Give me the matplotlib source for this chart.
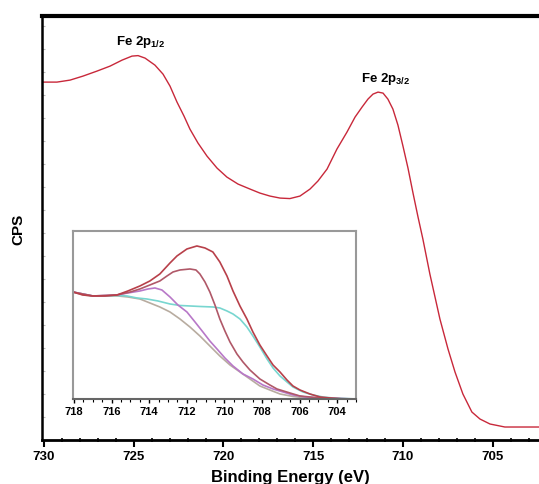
import matplotlib.pyplot as plt
import numpy as np
from matplotlib.ticker import MultipleLocator

plt.rcParams['font.family'] = ['Liberation Sans', 'DejaVu Sans']
plt.rcParams['mathtext.fontset'] = 'custom'
plt.rcParams['mathtext.rm'] = 'Liberation Sans:bold'
plt.rcParams['mathtext.it'] = 'Liberation Sans:bold'

# main Fe 2p spectrum (binding energy, counts)
main_be = [730.11, 729.28, 728.55, 727.83, 727.05, 726.32, 725.65, 725.10, 724.76, 724.37,
           723.82, 723.37, 722.98, 722.59, 722.20, 721.87, 721.42, 720.92, 720.36, 719.81,
           719.19, 718.52, 717.97, 717.41, 716.85, 716.30, 715.74, 715.18, 714.74, 714.23,
           713.68, 713.12, 712.67, 712.28, 711.95, 711.67, 711.39, 711.11, 710.84, 710.56,
           710.28, 710.00, 709.72, 709.44, 709.16, 708.89, 708.50, 707.94, 707.49, 707.10,
           706.66, 706.16, 705.71, 705.15, 704.32, 703.48, 702.42]
main_cps = [17900, 17900, 18000, 18200, 18450, 18700, 19000, 19200, 19225, 19100,
            18750, 18300, 17700, 16900, 16200, 15550, 14850, 14200, 13600, 13150,
            12800, 12550, 12350, 12200, 12100, 12075, 12200, 12550, 12950, 13550,
            14550, 15400, 16150, 16650, 17050, 17300, 17400, 17350, 17050, 16550,
            15750, 14700, 13600, 12350, 11150, 10050, 8300, 6050, 4550, 3400,
            2300, 1400, 1050, 800, 650, 650, 650]

# inset: Fe 2p3/2 fit
env_be = [718.05, 717.52, 716.99, 716.35, 715.71, 715.13, 714.49, 713.96, 713.43, 712.89,
          712.52, 711.99, 711.46, 711.03, 710.61, 710.24, 709.86, 709.54, 709.17, 708.80,
          708.48, 708.11, 707.73, 707.41, 707.04, 706.67, 706.35, 705.98, 705.45, 704.91,
          704.38, 703.69, 703.0]
env_cps = [10700, 10400, 10300, 10300, 10400, 10800, 11300, 11800, 12500, 13600,
           14300, 15000, 15300, 15100, 14700, 13700, 12300, 10800, 9300, 8000,
           6700, 5400, 4300, 3400, 2700, 1900, 1300, 900, 500, 200,
           100, 0, 0]

peak1_be = [718.05, 716.99, 715.71, 715.0, 714.49, 713.96, 713.43, 713.05, 712.73, 712.36,
            711.83, 711.51, 711.30, 711.03, 710.77, 710.50, 710.24, 709.97, 709.70, 709.33,
            709.01, 708.64, 708.11, 707.58, 707.20, 706.51, 705.98, 705.19, 704.55, 703.0]
peak1_cps = [10700, 10300, 10400, 10700, 11000, 11400, 11800, 12300, 12700, 12900,
             13000, 12900, 12500, 11700, 10700, 9400, 8000, 6800, 5700, 4500,
             3700, 2900, 2000, 1400, 1000, 600, 300, 150, 50, 0]

peak2_be = [718.05, 716.99, 715.71, 715.13, 714.49, 714.06, 713.69, 713.32, 712.89, 712.47,
            711.99, 711.56, 711.14, 710.77, 710.39, 709.97, 709.54, 709.01, 708.48, 707.95,
            707.41, 706.88, 706.35, 705.71, 704.91, 703.0]
peak2_cps = [10700, 10300, 10400, 10600, 10800, 11000, 11100, 10900, 10200, 9400,
             8700, 7700, 6700, 5800, 5000, 4100, 3300, 2500, 2000, 1400,
             1000, 700, 400, 200, 100, 0]

peak3_be = [718.05, 716.99, 715.71, 715.18, 714.65, 714.12, 713.53, 712.89, 712.36, 711.83,
            711.30, 710.61, 710.24, 709.86, 709.54, 709.17, 708.80, 708.48, 708.11, 707.73,
            707.41, 707.04, 706.67, 706.35, 705.82, 705.29, 704.76, 704.23, 703.0]
peak3_cps = [10700, 10300, 10350, 10300, 10100, 10000, 9800, 9500, 9350, 9300,
             9250, 9200, 9100, 8800, 8500, 8000, 7200, 6300, 5200, 4000,
             3100, 2300, 1700, 1200, 700, 400, 200, 100, 0]

bg_be = [718.05, 717.52, 716.99, 716.35, 715.66, 715.13, 714.49, 713.96, 713.43, 712.89,
         712.36, 711.83, 711.30, 710.77, 710.24, 709.70, 709.17, 708.64, 708.11, 707.58,
         707.04, 706.35, 705.61, 704.65, 703.0]
bg_cps = [10700, 10400, 10300, 10300, 10300, 10200, 10000, 9600, 9200, 8700,
          8000, 7200, 6300, 5300, 4300, 3400, 2700, 2000, 1300, 900,
          500, 250, 100, 50, 0]

main_ticks = [730, 725, 720, 715, 710, 705]
inset_ticks = [718, 716, 714, 712, 710, 708, 706, 704]

fig = plt.figure(figsize=(5.39, 4.85), dpi=100)
ax = fig.add_axes([0.078, 0.0907, 0.922, 0.874])

ax.plot(main_be, main_cps, color='#c8283a', lw=1.0)
ax.set_xlim(730.11, 702.42)
ax.set_ylim(0, 21200)

ax.spines['right'].set_visible(False)
ax.spines['top'].set_linewidth(3)
ax.spines['left'].set_linewidth(1.8)
ax.spines['bottom'].set_linewidth(2)

ax.set_xticks(main_ticks)
ax.set_xticklabels([str(t) for t in main_ticks], fontweight='bold', fontsize=9.5)
ax.xaxis.set_minor_locator(MultipleLocator(1))
ax.tick_params(axis='x', which='major', direction='out', length=5, width=1.5, pad=2)
ax.tick_params(axis='x', which='minor', direction='inout', length=3, width=1.2)
ax.yaxis.set_major_locator(MultipleLocator(1150))
ax.tick_params(axis='y', which='major', direction='in', length=2, width=0.8,
               color='#bbbbbb', labelleft=False)

ax.set_xlabel('Binding Energy (eV)', fontweight='bold', fontsize=12, labelpad=5)
ax.set_ylabel('CPS', fontweight='bold', fontsize=11, labelpad=12)

ax.text(724.6, 19550, r'Fe 2p$_{1/2}$', fontsize=9.5, fontweight='bold', ha='center', va='bottom')
ax.text(710.95, 17700, r'Fe 2p$_{3/2}$', fontsize=9.5, fontweight='bold', ha='center', va='bottom')

ins = fig.add_axes([0.1354, 0.1753, 0.525, 0.3464])
ins.plot(bg_be, bg_cps, color='#b8aca0', lw=1.2)
ins.plot(peak3_be, peak3_cps, color='#78d6d0', lw=1.2)
ins.plot(peak2_be, peak2_cps, color='#b878c8', lw=1.2)
ins.plot(peak1_be, peak1_cps, color='#b05868', lw=1.2)
ins.plot(env_be, env_cps, color='#b8404a', lw=1.2)
ins.set_xlim(718.05, 703.0)
ins.set_ylim(0, 16800)
for s in ins.spines.values():
    s.set_color('#999999')
    s.set_linewidth(1.5)
ins.spines['bottom'].set_color('#666666')
ins.set_xticks(inset_ticks)
ins.set_xticklabels([str(t) for t in inset_ticks], fontweight='bold', fontsize=8)
ins.xaxis.set_minor_locator(MultipleLocator(0.5))
ins.tick_params(axis='x', which='major', direction='out', length=3, width=1, pad=2)
ins.tick_params(axis='x', which='minor', direction='out', length=2, width=0.8)
ins.set_yticks([])

fig.savefig('out.png', dpi=100)
